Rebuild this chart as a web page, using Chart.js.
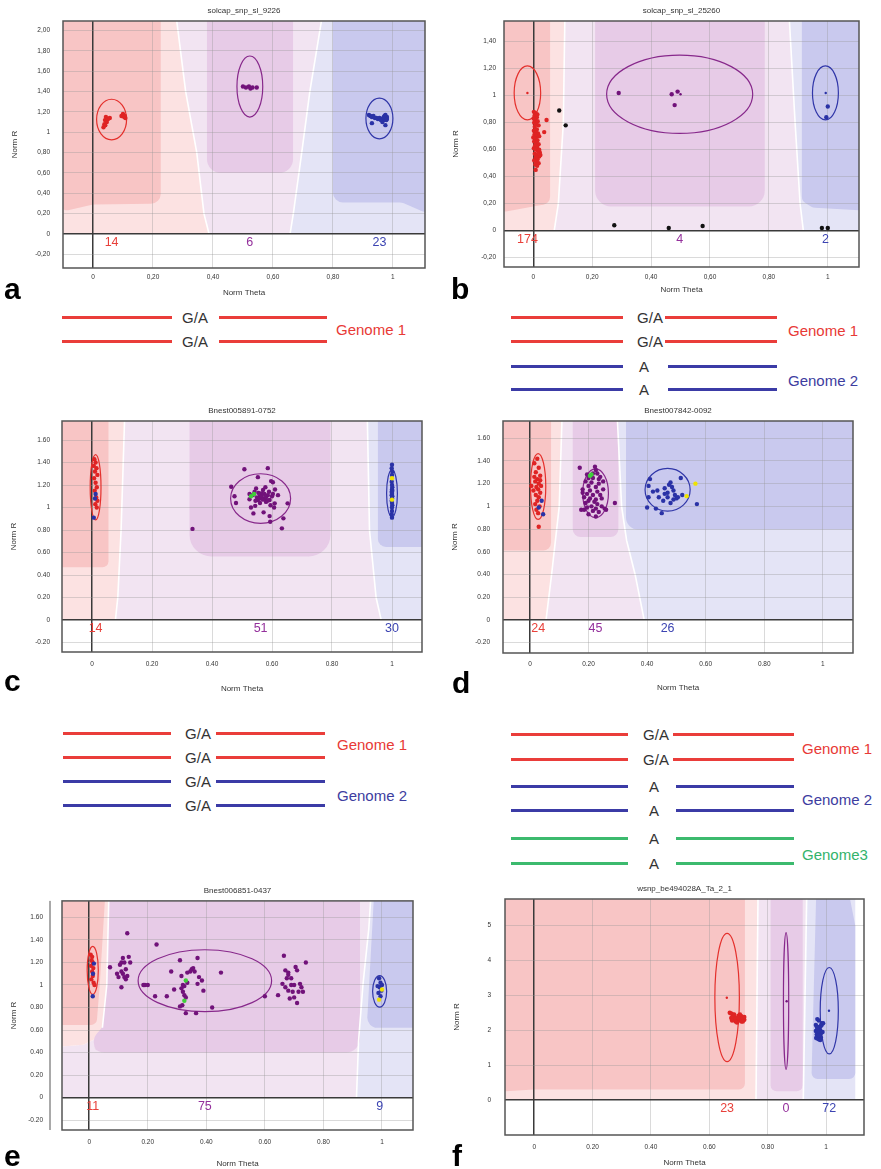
<!DOCTYPE html>
<html>
<head>
<meta charset="utf-8">
<title>Genotype cluster plots</title>
<script src="https://cdn.jsdelivr.net/npm/chart.js@4.4.1/dist/chart.umd.min.js"></script>
<style>
  html, body { margin: 0; padding: 0; background: #fff; }
  #page { position: relative; width: 881px; height: 1169px; overflow: hidden; font-family: "Liberation Sans", Arial, sans-serif; }
  #page canvas { position: absolute; }
  .t { position: absolute; white-space: nowrap; line-height: 1; transform: translate(-50%, -50%); }
  .tl { position: absolute; white-space: nowrap; line-height: 1; transform: translate(0, -50%); }
  .ln { position: absolute; height: 2.5px; }
  .letter { position: absolute; font: bold 30px "Liberation Sans", Arial, sans-serif; line-height: 30px; }
</style>
</head>
<body>
<div id="page"></div>
<script>
// ---------- data ----------
const titles = ["solcap_snp_sl_9226", "solcap_snp_sl_25260", "Bnest005891-0752",
                "Bnest007842-0092", "Bnest006851-0437", "wsnp_be494028A_Ta_2_1"];
const xTicks = [0, 0.2, 0.4, 0.6, 0.8, 1];
const yTicksA = [-0.2, 0, 0.2, 0.4, 0.6, 0.8, 1, 1.2, 1.4, 1.6, 1.8, 2];
const yTicksB = [-0.2, 0, 0.2, 0.4, 0.6, 0.8, 1, 1.2, 1.4];
const yTicksCDE = [-0.2, 0, 0.2, 0.4, 0.6, 0.8, 1, 1.2, 1.4, 1.6];
const yTicksF = [0, 1, 2, 3, 4, 5];

// a
const aCounts = [14, 6, 23];
const aEllipses = [[0.062, 1.125, 0.05, 0.2], [0.523, 1.45, 0.043, 0.3], [0.955, 1.135, 0.045, 0.2]];
const aRed = [[0.035,1.05],[0.038,1.08],[0.04,1.12],[0.043,1.15],[0.046,1.1],[0.05,1.13],[0.041,1.07],
  [0.056,1.14],[0.095,1.16],[0.1,1.17],[0.104,1.15],[0.108,1.14],[0.1,1.18],[0.106,1.16]];
const aPurple = [[0.5,1.45],[0.51,1.44],[0.52,1.45],[0.525,1.43],[0.532,1.44],[0.546,1.44]];
const aBlue = [[0.92,1.17],[0.925,1.16],[0.93,1.15],[0.935,1.16],[0.94,1.14],[0.945,1.14],[0.95,1.13],
  [0.955,1.14],[0.96,1.13],[0.965,1.13],[0.97,1.15],[0.972,1.16],[0.975,1.14],[0.978,1.12],[0.98,1.15],
  [0.975,1.17],[0.97,1.12],[0.965,1.1],[0.975,1.07],[0.93,1.09],[0.96,1.12],[0.968,1.14],[0.98,1.13]];

// b
const bCounts = [174, 4, 2];
const bEllipses = [[-0.02, 1.02, 0.045, 0.2], [0.497, 1.01, 0.248, 0.29], [0.992, 1.02, 0.044, 0.2]];
const bRed = [[0.002,0.88],[0.008,0.87],[0.004,0.85],[0.012,0.84],[0.006,0.82],[0.015,0.81],[0.003,0.8],
  [0.01,0.79],[0.018,0.78],[0.005,0.77],[0.012,0.75],[0.002,0.74],[0.009,0.73],[0.016,0.72],[0.004,0.71],
  [0.011,0.7],[0.007,0.68],[0.014,0.67],[0.003,0.66],[0.01,0.65],[0.018,0.64],[0.006,0.63],[0.013,0.62],
  [0.002,0.61],[0.009,0.6],[0.016,0.59],[0.022,0.58],[0.005,0.57],[0.012,0.56],[0.02,0.55],[0.008,0.54],
  [0.015,0.53],[0.003,0.52],[0.011,0.51],[0.018,0.5],[0.007,0.49],[0.013,0.48],[0.008,0.45],[0.024,0.56],
  [0.02,0.6],[0.001,0.83],[0.014,0.86],[0.02,0.7],[0.0,0.69],[0.045,0.82],[0.037,0.73]];
const bRedCentre = [[-0.02, 1.02]];
const bBlack = [[0.088,0.89],[0.11,0.78],[0.275,0.04],[0.46,0.02],[0.575,0.035],[0.98,0.02],[1.0,0.02]];
const bPurple = [[0.29,1.02],[0.47,1.01],[0.49,1.03],[0.48,0.93]];
const bPurpleCentre = [[0.5, 1.01]];
const bBlue = [[1.0,0.92],[0.995,0.84]];
const bBlueCentre = [[0.993, 1.02]];

// c
const cCounts = [14, 51, 30];
const cEllipses = [[0.012, 1.18, 0.018, 0.29], [0.562, 1.08, 0.1, 0.22], [1.0, 1.125, 0.018, 0.21]];
const cRed = [[0.008,1.43],[0.012,1.4],[0.006,1.37],[0.015,1.35],[0.01,1.32],[0.018,1.29],[0.007,1.26],
  [0.012,1.22],[0.016,1.18],[0.009,1.15],[0.014,1.09],[0.018,1.06],[0.011,1.03],[0.016,1.0]];
const cRedBlue = [[0.012,1.12],[0.006,0.91],[0.01,1.08]];
const cPurple = [[0.464,1.185],[0.475,1.1],[0.48,1.04],[0.508,1.34],[0.586,1.35],[0.553,1.27],[0.597,1.235],
  [0.603,1.224],[0.525,1.073],[0.536,1.11],[0.542,1.14],[0.547,1.17],[0.553,1.067],[0.559,1.096],[0.564,1.126],
  [0.57,1.156],[0.575,1.081],[0.58,1.05],[0.586,1.11],[0.592,1.067],[0.603,1.12],[0.609,1.037],[0.607,1.0],
  [0.53,1.0],[0.544,1.015],[0.538,0.948],[0.572,0.957],[0.592,0.924],[0.594,0.874],[0.638,0.904],[0.633,0.815],
  [0.652,1.037],[0.335,0.81],[0.56,1.08],[0.565,1.1],[0.57,1.07],[0.575,1.12],[0.58,1.09],[0.55,1.09],
  [0.545,1.06],[0.555,1.13],[0.585,1.06],[0.59,1.14],[0.6,1.1],[0.56,1.04],[0.595,1.02],[0.54,1.12],
  [0.578,1.18],[0.62,1.11],[0.525,1.12],[0.61,1.16]];
const cGreen = [[0.53,1.1],[0.54,1.12]];
const cBlue = [[1.0,1.38],[0.999,1.35],[1.001,1.32],[1.0,1.29],[0.999,1.23],[1.0,1.2],[1.001,1.18],[1.0,1.16],
  [0.999,1.14],[1.0,1.12],[1.001,1.1],[1.0,1.08],[0.999,1.06],[1.0,1.04],[1.001,1.02],[1.0,1.0],[1.0,0.97],
  [0.999,0.94],[1.0,0.91],[1.001,1.15],[0.999,1.11],[1.0,1.13]];
const cYellow = [[1.0,1.26],[1.0,1.07]];

// d
const dCounts = [24, 45, 26];
const dEllipses = [[0.028, 1.175, 0.026, 0.29], [0.224, 1.115, 0.044, 0.215], [0.47, 1.146, 0.077, 0.188]];
const dRed = [[0.025,1.42],[0.015,1.38],[0.03,1.34],[0.02,1.3],[0.035,1.27],[0.025,1.24],[0.018,1.22],[0.03,1.2],
  [0.038,1.18],[0.022,1.17],[0.028,1.15],[0.012,1.14],[0.035,1.12],[0.02,1.1],[0.03,1.08],[0.025,1.05],
  [0.018,1.02],[0.033,1.0],[0.022,0.97],[0.028,0.94],[0.03,0.82],[0.005,1.18],[0.035,1.23],[0.015,1.26]];
const dRedBlue = [[0.04,1.05],[0.045,0.93],[0.03,0.99]];
const dPurple = [[0.17,1.34],[0.222,1.35],[0.225,1.32],[0.195,1.28],[0.23,1.29],[0.215,1.25],[0.24,1.26],
  [0.19,1.22],[0.21,1.21],[0.235,1.2],[0.2,1.18],[0.225,1.17],[0.18,1.15],[0.205,1.14],[0.23,1.13],[0.25,1.15],
  [0.195,1.11],[0.215,1.1],[0.24,1.1],[0.185,1.08],[0.205,1.07],[0.225,1.06],[0.245,1.07],[0.2,1.05],[0.22,1.04],
  [0.19,1.03],[0.23,1.02],[0.21,1.0],[0.245,1.0],[0.195,0.99],[0.225,0.98],[0.255,0.98],[0.185,0.97],[0.215,0.96],
  [0.235,0.95],[0.2,0.93],[0.225,0.91],[0.29,1.03],[0.26,0.97],[0.175,0.97],[0.25,1.22],[0.2,1.25],[0.215,1.29],
  [0.235,1.24],[0.18,1.12]];
const dGreen = [[0.205,1.27],[0.21,1.28]];
const dBlue = [[0.41,1.24],[0.405,1.18],[0.42,1.13],[0.435,1.14],[0.44,1.08],[0.455,1.05],[0.405,1.08],[0.4,0.99],
  [0.43,0.98],[0.45,0.94],[0.46,1.16],[0.47,1.12],[0.475,1.19],[0.48,1.21],[0.485,1.17],[0.49,1.14],[0.495,1.1],
  [0.5,1.07],[0.49,1.06],[0.505,1.08],[0.52,1.1],[0.515,1.25],[0.47,1.08],[0.46,1.11],[0.48,1.03],[0.57,1.02]];
const dYellow = [[0.565,1.2],[0.535,1.09]];

// e
const eCounts = [11, 75, 9];
const eEllipses = [[0.012, 1.13, 0.019, 0.213], [0.395, 1.038, 0.228, 0.275], [0.992, 0.944, 0.024, 0.14]];
const eRed = [[0.005,1.27],[0.01,1.25],[0.008,1.22],[0.012,1.2],[0.006,1.17],[0.014,1.15],[0.01,1.12],
  [0.012,1.08],[0.007,1.05],[0.015,1.02],[0.018,1.0]];
const eRedBlue = [[0.012,0.9],[0.016,1.19],[0.013,1.1]];
const ePurple = [[0.071,1.157],[0.13,1.46],[0.11,1.2],[0.115,1.24],[0.135,1.25],[0.12,1.2],[0.105,1.18],
  [0.125,1.14],[0.11,1.12],[0.115,1.1],[0.13,1.08],[0.12,1.07],[0.1,1.07],[0.125,1.05],[0.11,0.98],[0.14,1.2],
  [0.095,1.1],[0.185,1.0],[0.19,1.0],[0.2,1.0],[0.23,1.36],[0.225,0.9],[0.265,0.9],[0.28,1.12],[0.29,0.96],
  [0.31,1.22],[0.315,1.08],[0.32,1.0],[0.315,0.97],[0.32,0.94],[0.325,0.91],[0.33,0.89],[0.318,0.82],[0.33,0.75],
  [0.325,0.99],[0.335,1.02],[0.335,1.11],[0.345,1.12],[0.35,1.14],[0.355,1.15],[0.36,1.12],[0.37,1.24],[0.37,1.01],
  [0.375,1.07],[0.385,1.04],[0.39,0.95],[0.365,0.75],[0.42,0.8],[0.45,1.11],[0.31,0.81],[0.6,0.9],[0.645,0.91],
  [0.66,1.01],[0.665,1.26],[0.67,1.13],[0.675,1.06],[0.68,1.11],[0.67,0.98],[0.68,0.95],[0.685,0.88],[0.69,1.0],
  [0.695,0.94],[0.7,1.0],[0.705,1.16],[0.71,1.13],[0.7,0.89],[0.71,0.84],[0.72,1.01],[0.725,0.98],[0.73,0.94],
  [0.74,1.2],[0.69,1.06],[0.715,0.94],[0.68,1.09]];
const eGreen = [[0.33,1.04],[0.325,0.86]];
const eBlue = [[0.99,1.06],[0.995,1.02],[0.992,0.98],[0.998,0.95],[0.988,0.93],[0.995,0.9],[0.985,0.99],[1.0,1.0]];
const eYellow = [[1.0,0.96],[0.99,0.87]];

// f
const fCounts = [23, 0, 72];
const fEllipses = [[0.661, 2.94, 0.042, 1.84], [0.863, 2.84, 0.009, 1.96], [1.011, 2.56, 0.031, 1.24]];
const fRedCentre = [[0.66, 2.93]];
const fRed = [[0.67,2.5],[0.675,2.48],[0.68,2.45],[0.685,2.38],[0.69,2.35],[0.695,2.3],[0.7,2.28],[0.705,2.3],
  [0.71,2.4],[0.715,2.35],[0.72,2.3],[0.7,2.42],[0.69,2.25],[0.68,2.3],[0.675,2.35],[0.71,2.25],[0.705,2.45],
  [0.695,2.22],[0.715,2.25],[0.685,2.45],[0.7,2.35],[0.72,2.38],[0.678,2.28]];
const fPurpleCentre = [[0.865, 2.83]];
const fBlueCentre = [[1.01, 2.56]];
const fBlue = [[0.97,2.32],[0.975,2.28],[0.985,2.2],[0.965,2.15],[0.97,2.1],[0.975,2.05],[0.98,2.0],[0.965,1.98],
  [0.97,1.95],[0.975,1.92],[0.98,1.9],[0.968,1.88],[0.972,1.85],[0.978,1.82],[0.982,1.8],[0.966,1.78],[0.97,1.76],
  [0.975,1.74],[0.98,1.72],[0.985,2.15],[0.99,2.2],[0.972,2.02],[0.978,1.97],[0.984,1.93],[0.976,1.86],[0.969,2.08],
  [0.982,2.12],[0.988,1.95]];

// ---------- colours ----------
const RED = "#df2424", PUR = "#71127a", BLU = "#2a32a6", BLK = "#111", GRN = "#3fcf3a", YEL = "#efe300";
const ELL = ["#e4302c", "#87288b", "#3036a8"];
const CNT = ["#e8403a", "#94309c", "#3c44b2"];
const LP = "#fce2e2", LU = "#f2e4f2", LB = "#e4e4f6", CR = "#f8c5c5", CU = "#e7cbe7", CB = "#c9c9ee";

// strip zones between boundary curves (each boundary runs from y=0 upward)
function strips(bounds, colors) {
  const out = [];
  for (let i = 0; i < colors.length; i++) {
    out.push({ c: colors[i], p: bounds[i].concat(bounds[i + 1].slice().reverse()) });
  }
  return out;
}

const fmtComma = v => v === 0 ? "0" : v === 1 ? "1" : v.toFixed(2).replace(".", ",");
const fmtDot = v => v === 0 ? "0" : v === 1 ? "1" : v.toFixed(2);
const fmtInt = v => String(v);

function roundPoly(ctx, pts, r) {
  const n = pts.length;
  ctx.beginPath();
  if (!r) {
    pts.forEach((q, i) => i ? ctx.lineTo(q[0], q[1]) : ctx.moveTo(q[0], q[1]));
    ctx.closePath();
    return;
  }
  ctx.moveTo((pts[n - 1][0] + pts[0][0]) / 2, (pts[n - 1][1] + pts[0][1]) / 2);
  for (let i = 0; i < n; i++) {
    const a = pts[i], b = pts[(i + 1) % n];
    ctx.arcTo(a[0], a[1], b[0], b[1], r);
  }
  ctx.closePath();
}

function figPlugin(o) {
  return {
    id: "fig",
    beforeDraw(chart) {
      const { ctx, chartArea: ca, scales: { x, y } } = chart;
      const px = p => [x.getPixelForValue(p[0]), y.getPixelForValue(p[1])];
      const y0 = y.getPixelForValue(0);
      ctx.save();
      ctx.beginPath();
      ctx.rect(ca.left, ca.top, ca.right - ca.left, y0 - ca.top);
      ctx.clip();
      o.zones.forEach(z => {
        ctx.fillStyle = z.c;
        roundPoly(ctx, z.p.map(px), z.r || 0);
        ctx.fill();
      });
      ctx.strokeStyle = "#fff";
      ctx.lineWidth = 1.6;
      o.edges.forEach(e => {
        ctx.beginPath();
        e.map(px).forEach((q, i) => i ? ctx.lineTo(q[0], q[1]) : ctx.moveTo(q[0], q[1]));
        ctx.stroke();
      });
      ctx.restore();
    },
    beforeDatasetsDraw(chart) {
      const { ctx, scales: { x, y } } = chart;
      ctx.save();
      ctx.lineWidth = 1.2;
      o.ellipses.forEach((e, i) => {
        const cx = x.getPixelForValue(e[0]), cy = y.getPixelForValue(e[1]);
        const rx = Math.abs(x.getPixelForValue(e[0] + e[2]) - cx);
        const ry = Math.abs(y.getPixelForValue(e[1] + e[3]) - cy);
        ctx.strokeStyle = ELL[i];
        ctx.beginPath();
        ctx.ellipse(cx, cy, rx, ry, 0, 0, Math.PI * 2);
        ctx.stroke();
      });
      ctx.restore();
    },
    afterDraw(chart) {
      const { ctx, chartArea: ca, scales: { x, y } } = chart;
      ctx.save();
      ctx.strokeStyle = "#555";
      ctx.lineWidth = 1.5;
      ctx.strokeRect(ca.left, ca.top, ca.right - ca.left, ca.bottom - ca.top);
      if (o.axisLine) {
        ctx.lineWidth = 1;
        ctx.beginPath();
        ctx.moveTo(ca.left - o.axisLine, ca.top);
        ctx.lineTo(ca.left - o.axisLine, ca.bottom);
        ctx.stroke();
      }
      ctx.fillStyle = "#333";
      ctx.textAlign = "center";
      ctx.textBaseline = "middle";
      ctx.font = '8px "Liberation Sans", Arial, sans-serif';
      ctx.fillText(o.title, (ca.left + ca.right) / 2, ca.top - 10);
      ctx.fillText("Norm Theta", (ca.left + ca.right) / 2, ca.bottom + o.xTitleOff);
      ctx.save();
      ctx.translate(ca.left - 48, (ca.top + ca.bottom) / 2);
      ctx.rotate(-Math.PI / 2);
      ctx.fillText("Norm R", 0, 0);
      ctx.restore();
      ctx.font = '12.5px "Liberation Sans", Arial, sans-serif';
      const yc = y.getPixelForValue(0) + 9;
      o.counts.forEach((n, i) => {
        ctx.fillStyle = CNT[i];
        ctx.fillText(String(n), x.getPixelForValue(o.ellipses[i][0]), yc);
      });
      ctx.restore();
    }
  };
}

function ds(data, color, r) {
  return { data, backgroundColor: color, borderWidth: 0, pointRadius: r || 2.2, pointHoverRadius: r || 2.2 };
}

const page = document.getElementById("page");

function makePanel(o) {
  const [L, T, R, B] = o.frame;
  const w = R + 5 - o.cl, h = B + o.hx - o.ct;
  const cv = document.createElement("canvas");
  cv.width = w; cv.height = h;
  cv.style.left = o.cl + "px"; cv.style.top = o.ct + "px";
  cv.style.width = w + "px"; cv.style.height = h + "px";
  page.appendChild(cv);
  const gridColor = c => c.tick && c.tick.value === 0 ? "#3a3a3a" : "rgba(150,150,150,0.35)";
  const gridWidth = c => c.tick && c.tick.value === 0 ? 1.5 : 1;
  const tickFont = { family: '"Liberation Sans", Arial, sans-serif', size: 6.5 };
  new Chart(cv, {
    type: "scatter",
    data: { datasets: o.sets },
    options: {
      responsive: false, animation: false, events: [], devicePixelRatio: 1,
      layout: { padding: { top: T - o.ct, right: 5, left: 0, bottom: 0 } },
      plugins: { legend: { display: false }, tooltip: { enabled: false }, title: { display: false } },
      scales: {
        x: {
          type: "linear", min: o.xr[0], max: o.xr[1],
          afterBuildTicks: s => { s.ticks = xTicks.map(v => ({ value: v })); },
          afterFit: s => { s.height = o.hx; },
          ticks: { callback: o.fmt, font: tickFont, color: "#333", padding: o.xPad, autoSkip: false, maxRotation: 0 },
          grid: { color: gridColor, lineWidth: gridWidth, drawTicks: false },
          border: { display: false }
        },
        y: {
          type: "linear", min: o.yr[0], max: o.yr[1],
          afterBuildTicks: s => { s.ticks = o.yTicks.map(v => ({ value: v })); },
          afterFit: s => { s.width = L - o.cl; },
          ticks: { callback: o.fmt === fmtInt ? fmtInt : o.fmt, font: tickFont, color: "#333", padding: o.yPad, autoSkip: false },
          grid: { color: gridColor, lineWidth: gridWidth, drawTicks: false },
          border: { display: false }
        }
      }
    },
    plugins: [figPlugin(o)]
  });
}

// ---------- panels ----------
const edgeA = [[[0.387,0],[0.37,0.2],[0.346,0.8],[0.309,1.4],[0.279,2.1],[0.27,2.4]],
               [[0.657,0],[0.668,0.2],[0.696,0.8],[0.723,1.4],[0.762,2.1],[0.77,2.4]]];
makePanel({
  cl: 0, ct: 0, frame: [63, 21, 425, 268], hx: 36, xr: [-0.1, 1.107], yr: [-0.334, 2.094],
  yTicks: yTicksA, fmt: fmtComma, xPad: 5, yPad: 13, xTitleOff: 25, title: titles[0],
  zones: strips([[[-0.2,0],[-0.2,2.4]], ...edgeA, [[1.3,0],[1.3,2.4]]], [LP, LU, LB]).concat([
    { c: CR, r: 10, p: [[-0.12,0.21],[0.0,0.29],[0.226,0.3],[0.226,2.6],[-0.12,2.6]] },
    { c: CU, r: 14, p: [[0.38,0.6],[0.667,0.6],[0.667,2.6],[0.38,2.6]] },
    { c: CB, r: 10, p: [[0.8,0.31],[1.03,0.31],[1.1,0.22],[1.3,0.22],[1.3,2.6],[0.8,2.6]] }]),
  edges: edgeA, ellipses: aEllipses, counts: aCounts,
  sets: [ds(aRed, RED), ds(aPurple, PUR), ds(aBlue, BLU)]
});

const edgeB = [[[0.071,0],[0.085,0.2],[0.102,0.8],[0.108,1.7]],
               [[0.917,0],[0.906,0.2],[0.889,0.8],[0.866,1.7]]];
makePanel({
  cl: 441, ct: 0, frame: [504, 21, 859, 267], hx: 36, xr: [-0.0995, 1.106], yr: [-0.269, 1.553],
  yTicks: yTicksB, fmt: fmtComma, xPad: 6, yPad: 8, xTitleOff: 23, title: titles[1],
  zones: strips([[[-0.2,0],[-0.2,1.7]], ...edgeB, [[1.3,0],[1.3,1.7]]], [LP, LU, LB]).concat([
    { c: CR, r: 8, p: [[-0.12,0.13],[0.0,0.18],[0.057,0.2],[0.057,2],[-0.12,2]] },
    { c: CU, r: 16, p: [[0.21,0.18],[0.786,0.18],[0.786,2],[0.21,2]] },
    { c: CB, r: 8, p: [[0.912,0.22],[0.95,0.17],[1.2,0.14],[1.2,2],[0.912,2]] }]),
  edges: edgeB, ellipses: bEllipses, counts: bCounts,
  sets: [ds(bRedCentre, RED, 1.2), ds(bPurpleCentre, PUR, 1.2), ds(bBlueCentre, BLU, 1.2),
         ds(bBlack, BLK), ds(bRed, RED), ds(bPurple, PUR), ds(bBlue, BLU)]
});

const edgeC = [[[0.078,0],[0.086,0.2],[0.097,0.8],[0.11,1.9]],
               [[0.964,0],[0.947,0.2],[0.925,0.8],[0.917,1.9]]];
makePanel({
  cl: 0, ct: 400, frame: [62, 421, 422, 652], hx: 44, xr: [-0.1, 1.1], yr: [-0.284, 1.769],
  yTicks: yTicksCDE, fmt: fmtDot, xPad: 8, yPad: 12, xTitleOff: 37, title: titles[2],
  zones: strips([[[-0.2,0],[-0.2,1.9]], ...edgeC, [[1.3,0],[1.3,1.9]]], [LP, LU, LB]).concat([
    { c: CR, r: 6, p: [[-0.12,0.47],[0.055,0.47],[0.055,2],[-0.12,2]] },
    { c: CU, r: 22, p: [[0.325,0.565],[0.795,0.565],[0.795,2],[0.325,2]] },
    { c: CB, r: 8, p: [[0.953,0.65],[1.2,0.65],[1.2,2],[0.953,2]] }]),
  edges: edgeC, ellipses: cEllipses, counts: cCounts,
  sets: [ds(cGreen, GRN), ds(cYellow, YEL), ds(cRedBlue, BLU), ds(cRed, RED), ds(cPurple, PUR), ds(cBlue, BLU)]
});

const edgeD = [[[0.055,0],[0.074,0.4],[0.1,1.0],[0.111,1.9]],
               [[0.39,0],[0.359,0.4],[0.33,0.7],[0.313,1.0],[0.296,1.9]]];
makePanel({
  cl: 441, ct: 400, frame: [503, 421, 853, 653], hx: 44, xr: [-0.092, 1.103], yr: [-0.292, 1.752],
  yTicks: yTicksCDE, fmt: fmtDot, xPad: 7, yPad: 13, xTitleOff: 35, title: titles[3],
  zones: strips([[[-0.2,0],[-0.2,1.9]], ...edgeD, [[1.3,0],[1.3,1.9]]], [LP, LU, LB]).concat([
    { c: CR, r: 8, p: [[-0.12,0.61],[0.072,0.61],[0.072,2],[-0.12,2]] },
    { c: CU, r: 8, p: [[0.146,0.73],[0.302,0.73],[0.302,2],[0.146,2]] },
    { c: CB, r: 12, p: [[0.328,0.795],[1.2,0.795],[1.2,2],[0.328,2]] }]),
  edges: edgeD, ellipses: dEllipses, counts: dCounts,
  sets: [ds(dGreen, GRN), ds(dYellow, YEL), ds(dRedBlue, BLU), ds(dRed, RED), ds(dPurple, PUR), ds(dBlue, BLU)]
});

const edgeE = [[[0.045,0.62],[0.06,1.0],[0.068,1.9]],
               [[0.913,0],[0.92,0.5],[0.935,1.0],[0.955,1.5],[0.965,1.9]]];
makePanel({
  cl: 0, ct: 878, frame: [62, 899, 413, 1130], hx: 39, xr: [-0.093, 1.106], yr: [-0.288, 1.747],
  yTicks: yTicksCDE, fmt: fmtDot, xPad: 8, yPad: 19, xTitleOff: 34, title: titles[4], axisLine: 12,
  zones: [
    { c: LU, p: [[-0.2,0],[0.913,0],[0.92,0.5],[0.935,1.0],[0.955,1.5],[0.965,1.9],[0.068,1.9],[0.06,1.0],
                 [0.045,0.62],[0.02,0.52],[-0.02,0.47],[-0.2,0.43]] },
    { c: LP, p: [[-0.2,0.43],[-0.02,0.47],[0.02,0.52],[0.045,0.62],[0.06,1.0],[0.068,1.9],[-0.2,1.9]] },
    { c: LB, p: [[0.913,0],[1.3,0],[1.3,1.9],[0.965,1.9],[0.955,1.5],[0.935,1.0],[0.92,0.5]] },
    { c: CR, r: 6, p: [[-0.12,0.645],[0.025,0.645],[0.036,1.0],[0.057,1.9],[-0.12,1.9]] },
    { c: CU, r: 14, p: [[0.0,0.5],[0.03,0.4],[0.925,0.4],[0.925,1.9],[0.068,1.9],[0.06,1.0],[0.045,0.62]] },
    { c: CB, r: 10, p: [[0.948,0.62],[1.2,0.62],[1.2,1.9],[0.975,1.9]] }],
  edges: edgeE, ellipses: eEllipses, counts: eCounts,
  sets: [ds(eGreen, GRN), ds(eYellow, YEL), ds(eRedBlue, BLU), ds(eRed, RED), ds(ePurple, PUR), ds(eBlue, BLU)]
});

const edgeF = [[[0.76,0],[0.767,6]], [[0.922,0],[0.934,6]]];
makePanel({
  cl: 441, ct: 878, frame: [505, 899, 864, 1135], hx: 34, xr: [-0.1, 1.13], yr: [-1.004, 5.764],
  yTicks: yTicksF, fmt: fmtDot, xPad: 8, yPad: 14, xTitleOff: 28, title: titles[5],
  zones: strips([[[-0.2,0],[-0.2,6]], ...edgeF, [[1.1,0],[1.1,6]]], [LP, LU, LB]).concat([
    { c: CR, r: 6, p: [[-0.12,0.24],[0.0,0.3],[0.722,0.3],[0.722,6.5],[-0.12,6.5]] },
    { c: CU, r: 6, p: [[0.81,0.25],[0.92,0.25],[0.92,6.5],[0.81,6.5]] },
    { c: CB, r: 6, p: [[0.95,0.6],[1.1,0.6],[1.1,5.0],[1.065,6.5],[0.968,6.5]] }]),
  edges: edgeF, ellipses: fEllipses, counts: fCounts,
  sets: [ds(fRedCentre, RED, 1.2), ds(fPurpleCentre, PUR, 1.2), ds(fBlueCentre, BLU, 1.2),
         ds(fRed, RED), ds(fBlue, BLU)]
});
// f uses integer y ticks
Chart.getChart(page.querySelectorAll("canvas")[5]).options.scales.y.ticks.callback = fmtInt;
Chart.getChart(page.querySelectorAll("canvas")[5]).update();

// ---------- panel letters ----------
[["a", 4, 274], ["b", 451, 274], ["c", 4, 666], ["d", 452, 668], ["e", 4, 1141], ["f", 452, 1141]]
  .forEach(([s, x, y]) => {
    const d = document.createElement("div");
    d.className = "letter"; d.textContent = s;
    d.style.left = x + "px"; d.style.top = y + "px";
    page.appendChild(d);
  });

// ---------- genome diagrams ----------
const LRED = "#ea3d3a", LBLU = "#3b3ba6", LGRN = "#3cba6e";
const genomeAlleles1L = ["G/A", "G/A"];
const genomeAlleles1R = ["G/A", "G/A", "A", "A"];
const genomeAlleles2L = ["G/A", "G/A", "G/A", "G/A"];
const genomeAlleles2R = ["G/A", "G/A", "A", "A", "A", "A"];

function diagram(alleles, ys, colors, leftLine, rightEnd, textGA, textA, labels, labelX) {
  alleles.forEach((a, i) => {
    const t = a === "A" ? textA : textGA;
    const l1 = document.createElement("div");
    l1.className = "ln"; l1.style.background = colors[i];
    l1.style.left = leftLine[0] + "px"; l1.style.width = (leftLine[1] - leftLine[0]) + "px";
    l1.style.top = (ys[i] - 1) + "px";
    page.appendChild(l1);
    const l2 = document.createElement("div");
    l2.className = "ln"; l2.style.background = colors[i];
    l2.style.left = t[1] + "px"; l2.style.width = (rightEnd - t[1]) + "px";
    l2.style.top = (ys[i] - 1) + "px";
    page.appendChild(l2);
    const tx = document.createElement("div");
    tx.className = "t"; tx.textContent = a;
    tx.style.left = t[0] + "px"; tx.style.top = ys[i] + "px";
    tx.style.font = '15px "Liberation Sans", Arial, sans-serif'; tx.style.color = "#333";
    page.appendChild(tx);
  });
  labels.forEach(([s, y, c]) => {
    const d = document.createElement("div");
    d.className = "tl"; d.textContent = s;
    d.style.left = labelX + "px"; d.style.top = y + "px";
    d.style.font = '15px "Liberation Sans", Arial, sans-serif'; d.style.color = c;
    page.appendChild(d);
  });
}

diagram(genomeAlleles1L, [317, 341], [LRED, LRED], [62, 172], 327, [195, 219], [195, 219],
        [["Genome 1", 329, "#e83a36"]], 336);
diagram(genomeAlleles1R, [317, 341, 366, 389], [LRED, LRED, LBLU, LBLU], [511, 623], 777, [650, 665], [644, 668],
        [["Genome 1", 330, "#e83a36"], ["Genome 2", 380, "#3d3da0"]], 788);
diagram(genomeAlleles2L, [733, 757, 781, 805], [LRED, LRED, LBLU, LBLU], [63, 171], 325, [198, 216], [198, 216],
        [["Genome 1", 744, "#e83a36"], ["Genome 2", 795, "#3d3da0"]], 337);
diagram(genomeAlleles2R, [734, 759, 786, 810, 838, 863], [LRED, LRED, LBLU, LBLU, LGRN, LGRN], [511, 628], 794,
        [656, 673], [654, 676],
        [["Genome 1", 748, "#e83a36"], ["Genome 2", 799, "#3d3da0"], ["Genome3", 854, "#33b36b"]], 802);
</script>
</body>
</html>
